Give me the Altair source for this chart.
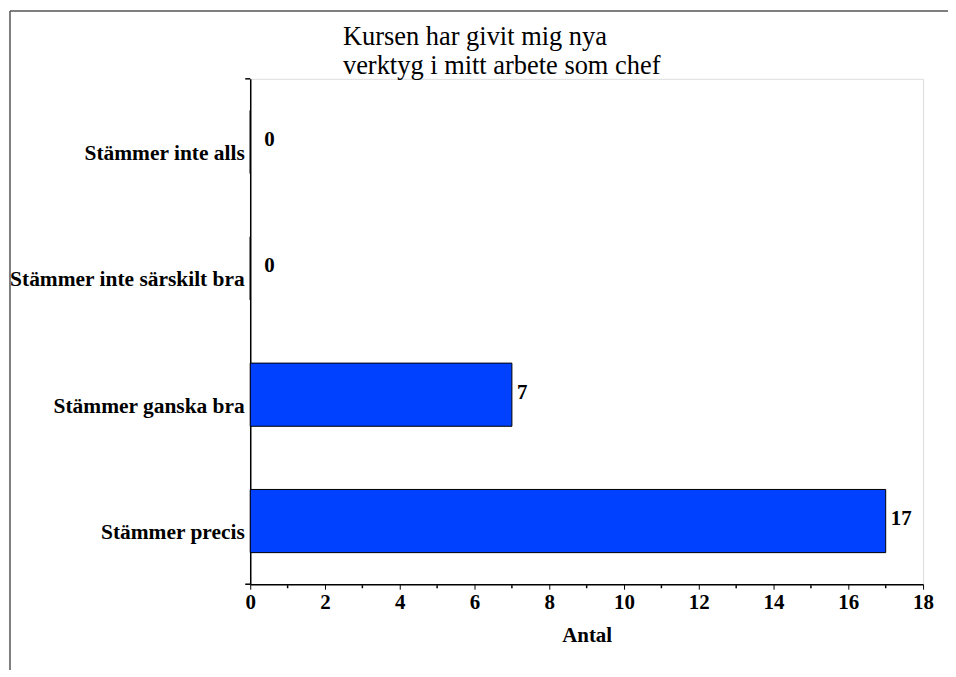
import altair as alt
import pandas as pd

categories = ["Stämmer inte alls", "Stämmer inte särskilt bra", "Stämmer ganska bra", "Stämmer precis"]
values = [0, 0, 7, 17]
x_ticks = [0, 2, 4, 6, 8, 10, 12, 14, 16, 18]
minor_ticks = [1, 3, 5, 7, 9, 11, 13, 15, 17]
title_lines = ["Kursen har givit mig nya", "verktyg i mitt arbete som chef"]

df = pd.DataFrame({"kat": categories, "antal": values})
minor = pd.DataFrame({"t": minor_ticks})
ends = pd.DataFrame({"e": [0]})

W, H = 675, 507
FONT = "Liberation Serif, Times New Roman, serif"
FS = 21.5

xscale = alt.Scale(domain=[0, 18], nice=False, zero=True)
yscale = alt.Scale(domain=categories, paddingInner=0.5, paddingOuter=0.25)

base = alt.Chart(df)

bars = base.mark_bar(color="#0040ff", stroke="black", strokeWidth=1).encode(
    x=alt.X("antal:Q", scale=xscale,
            axis=alt.Axis(values=x_ticks, title="Antal", grid=False, tickSize=5,
                          tickColor="black", domainColor="black", domainWidth=1.5,
                          labelFont=FONT, labelFontSize=21, labelFontWeight="bold",
                          labelColor="black", labelPadding=2,
                          titleFont=FONT, titleFontSize=21, titleFontWeight="bold",
                          titleColor="black", titlePadding=12, labelFlush=False)),
    y=alt.Y("kat:N", scale=yscale, sort=categories,
            axis=alt.Axis(title=None, ticks=False, labelOffset=12, labelPadding=6,
                          domainColor="black", domainWidth=1.5,
                          labelFont=FONT, labelFontSize=FS, labelFontWeight="bold",
                          labelColor="black", labelLimit=400)),
)

labels_pos = base.transform_filter("datum.antal > 0").mark_text(
    align="left", baseline="middle", dx=5, dy=-2, font=FONT, fontSize=21,
    fontWeight="bold", color="black").encode(
    x=alt.X("antal:Q", scale=xscale), y=alt.Y("kat:N", scale=yscale, sort=categories),
    text="antal:Q")

labels_zero = base.transform_filter("datum.antal == 0").mark_text(
    align="left", baseline="middle", dx=14, dy=-2, font=FONT, fontSize=21,
    fontWeight="bold", color="black").encode(
    x=alt.X("antal:Q", scale=xscale), y=alt.Y("kat:N", scale=yscale, sort=categories),
    text="antal:Q")

minor_rules = alt.Chart(minor).mark_rule(color="black", strokeWidth=1.5).encode(
    x=alt.X("t:Q", scale=xscale), y=alt.value(H + 1), y2=alt.value(H + 4))

end_top = alt.Chart(ends).mark_rule(color="black", strokeWidth=1.5).encode(
    x=alt.value(-5), x2=alt.value(0), y=alt.value(0))
end_bot = alt.Chart(ends).mark_rule(color="black", strokeWidth=1.5).encode(
    x=alt.value(-5), x2=alt.value(0), y=alt.value(H))

frame_left = alt.Chart(ends).mark_rule(color="#555555", strokeWidth=1.5).encode(
    x=alt.value(-241), y=alt.value(-68), y2=alt.value(H + 120))
frame_top = alt.Chart(ends).mark_rule(color="#555555", strokeWidth=1.5).encode(
    x=alt.value(-241), x2=alt.value(W + 60), y=alt.value(-68))

title_text = alt.Chart(ends).mark_text(
    align="left", baseline="alphabetic", font=FONT, fontSize=26.5, fontWeight="normal",
    color="black", lineHeight=29).encode(
    x=alt.value(93), y=alt.value(-34), text=alt.value(title_lines))

chart = alt.layer(frame_left, frame_top, title_text, bars, labels_pos, labels_zero,
                  minor_rules, end_top, end_bot).properties(
    width=W, height=H,
    autosize=alt.AutoSizeParams(type="none"),
    padding={"left": 243, "top": 70, "right": 25, "bottom": 85},
).configure_view(stroke="#777777", strokeWidth=1.5).configure(background="white")

chart.save("out.html", embed_options={"renderer": "svg", "actions": False})
